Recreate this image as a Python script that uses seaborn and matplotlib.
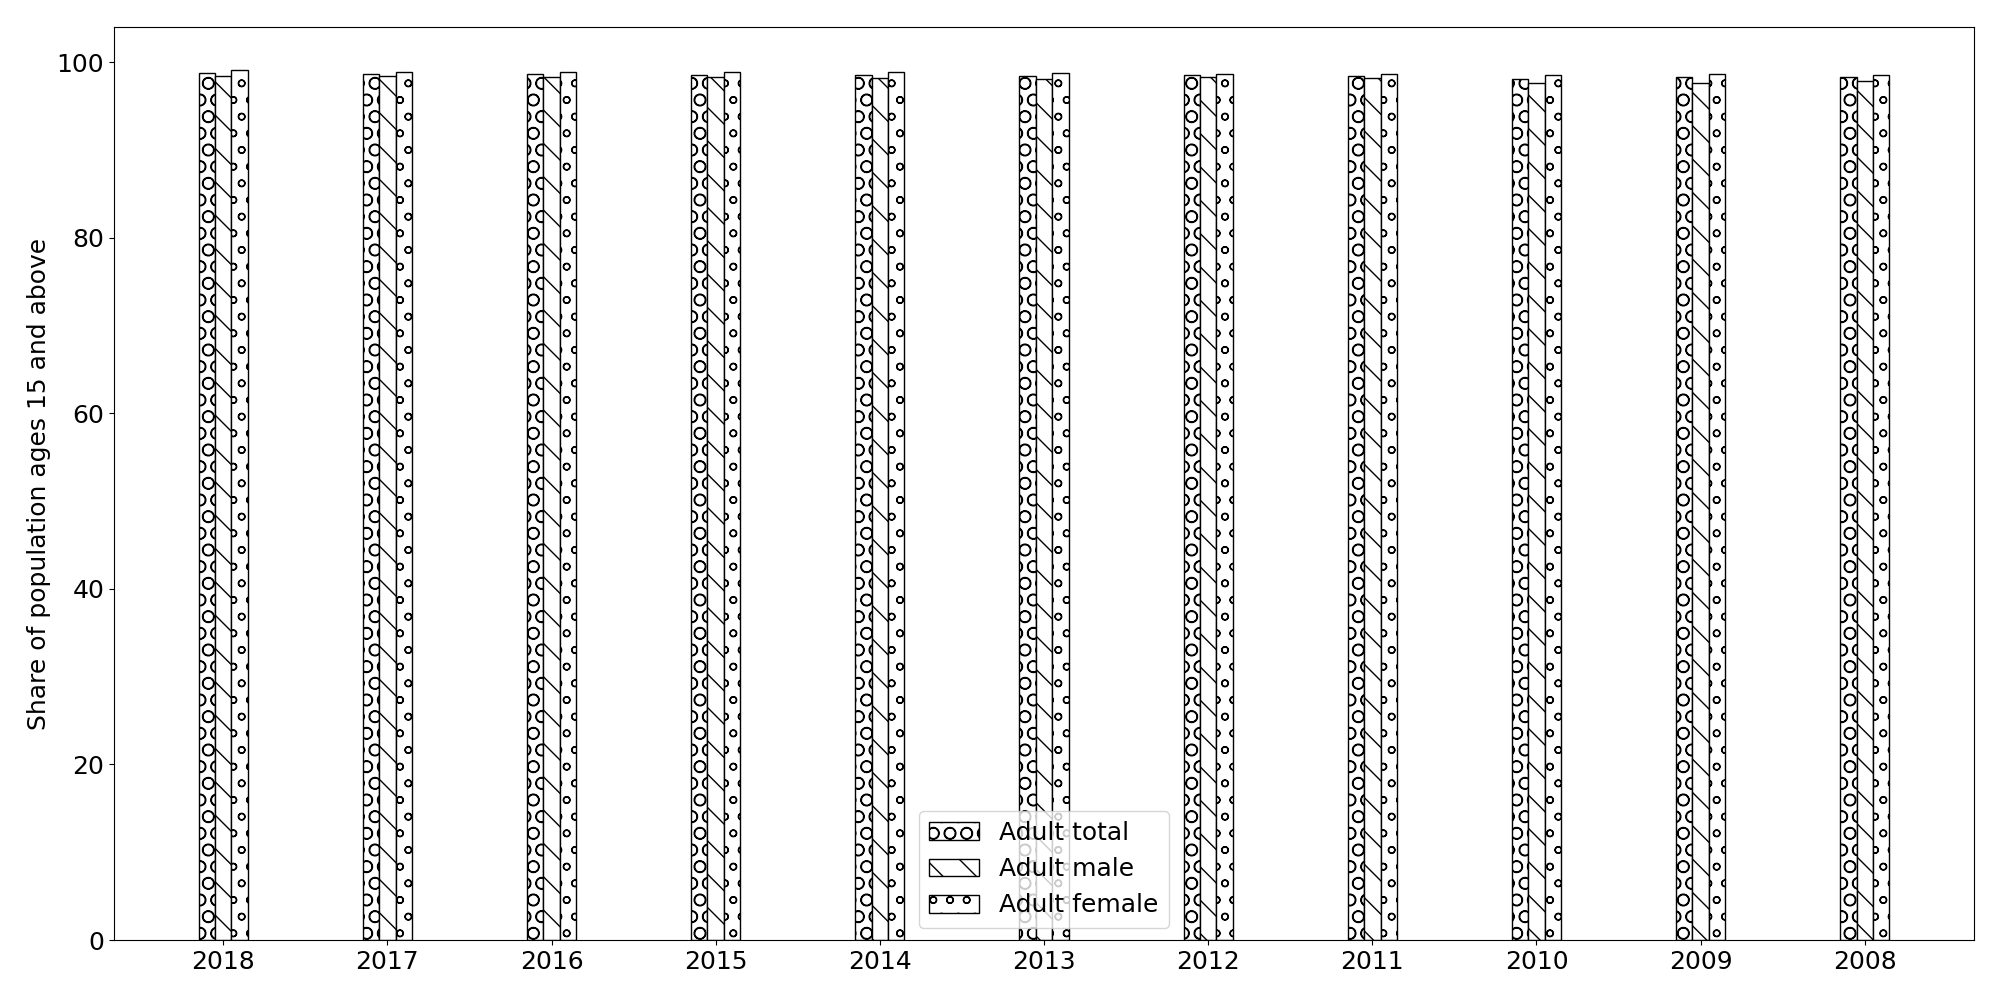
import pandas as pd
import matplotlib
matplotlib.use("Agg")
import matplotlib.pyplot as plt
import matplotlib.patches as mpatches
import seaborn as sns

# values
years = ["2018", "2017", "2016", "2015", "2014", "2013", "2012", "2011", "2010", "2009", "2008"]
adult_total = [98.76, 98.70, 98.65, 98.58, 98.54, 98.46, 98.50, 98.46, 98.12, 98.30, 98.30]
adult_male = [98.46, 98.40, 98.35, 98.27, 98.23, 98.12, 98.30, 98.15, 97.63, 97.63, 97.80]
adult_female = [99.06, 98.86, 98.86, 98.88, 98.84, 98.73, 98.69, 98.69, 98.58, 98.69, 98.54]

series = ["Adult total", "Adult male", "Adult female"]
hatches = ["O", "\\", "o"]

# long form table for seaborn
df = pd.DataFrame({
    "Year": years * 3,
    "Series": [s for s in series for _ in years],
    "Value": adult_total + adult_male + adult_female,
})

plt.rcParams["font.size"] = 18
plt.rcParams["font.family"] = ["DejaVu Sans"]

fig, ax = plt.subplots(figsize=(20, 10), dpi=100)
sns.barplot(data=df, x="Year", y="Value", hue="Series", order=years, hue_order=series,
            palette=["white"] * 3, saturation=1, width=0.3, errorbar=None,
            edgecolor="black", linewidth=1, legend=False, ax=ax)

# hatch each series
for container, h in zip(ax.containers, hatches):
    for bar in container:
        bar.set_hatch(h)

handles = [mpatches.Patch(facecolor="white", edgecolor="black", hatch=h, label=s)
           for s, h in zip(series, hatches)]
ax.legend(handles=handles, loc="lower center", fontsize=18)

ax.set_xlim(-0.665, 10.665)
ax.set_ylim(0, 104.0)
ax.set_xlabel("")
ax.set_ylabel("Share of population ages 15 and above", fontsize=18)
ax.tick_params(labelsize=18)

plt.subplots_adjust(left=0.057, right=0.987, top=0.973, bottom=0.06)
plt.savefig("out.png")
